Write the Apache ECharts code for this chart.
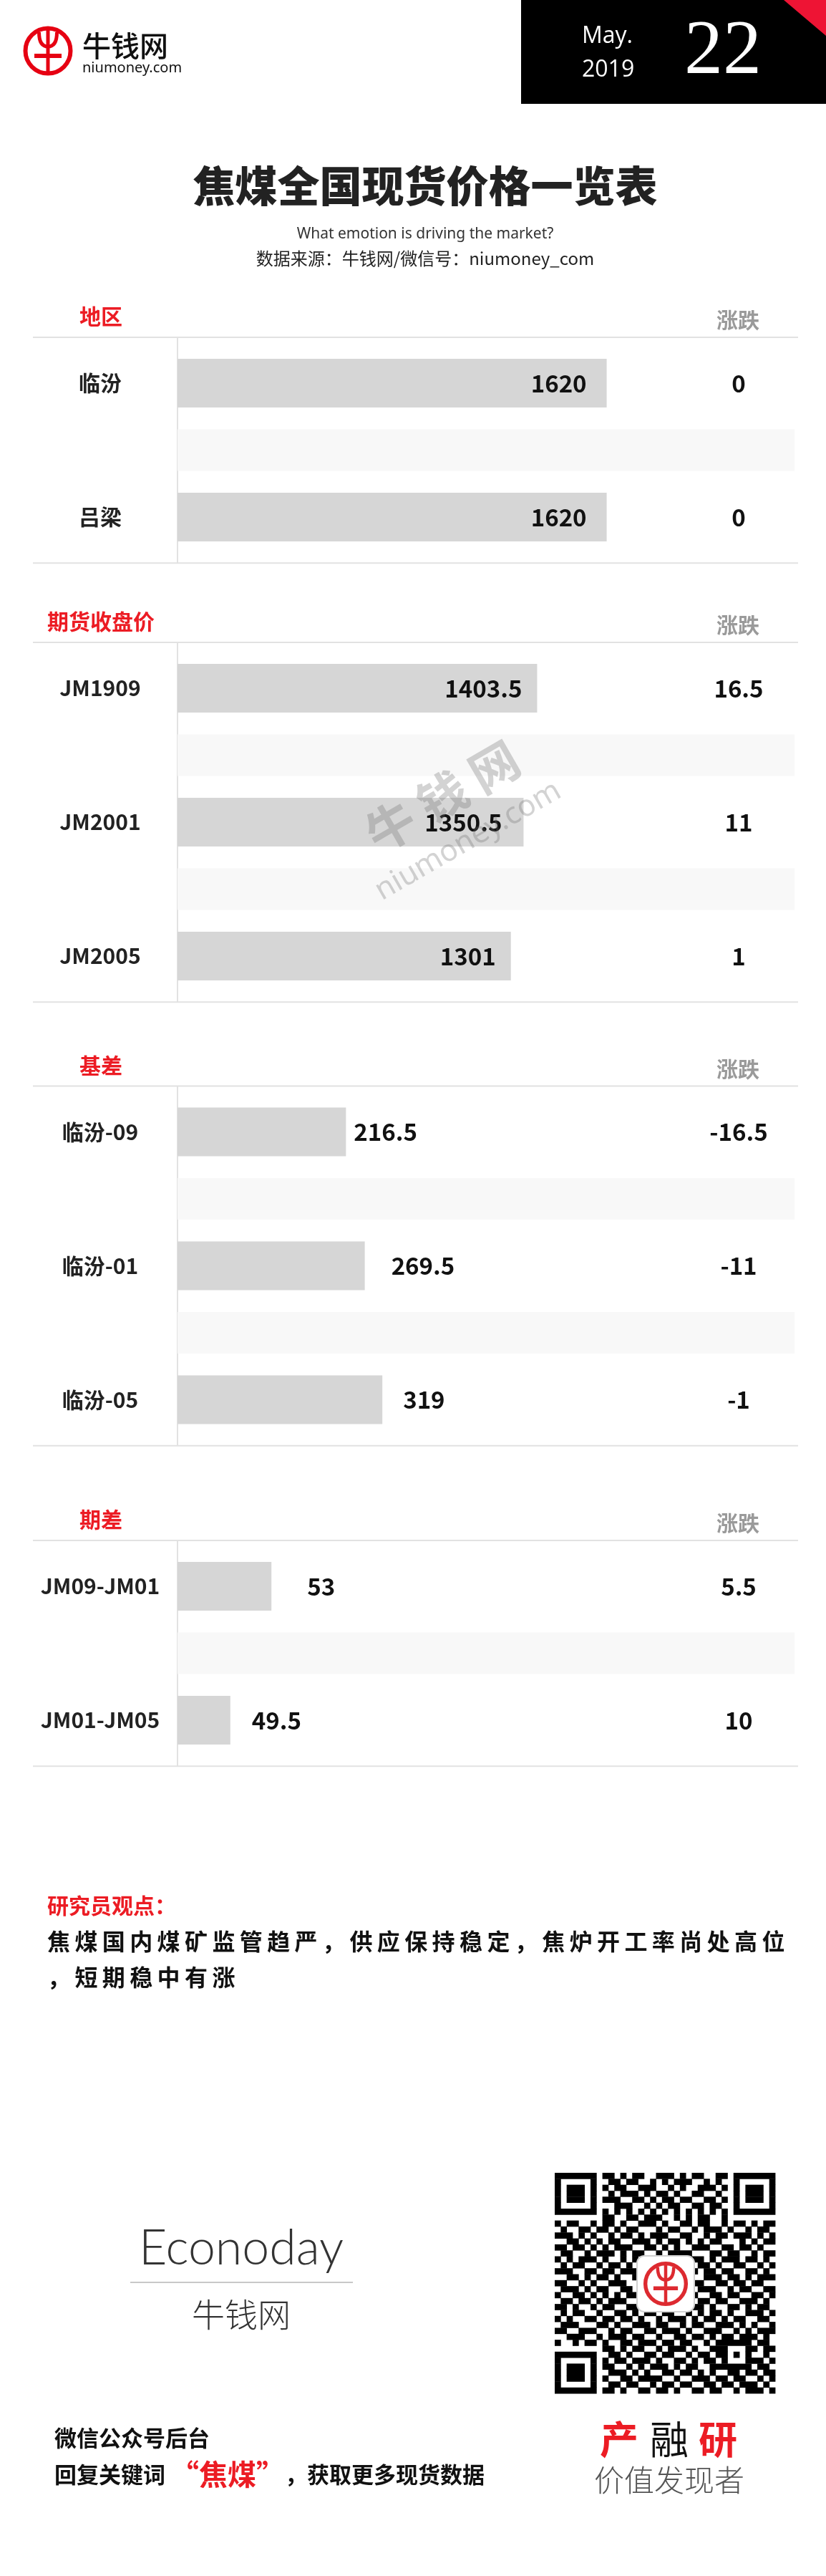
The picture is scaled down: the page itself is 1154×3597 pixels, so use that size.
<!DOCTYPE html>
<html><head><meta charset="utf-8">
<script src="https://cdn.jsdelivr.net/npm/echarts@6/dist/echarts.min.js"></script>
<style>html,body{margin:0;padding:0;background:#fff}#c{width:1154px;height:3597px}</style>
</head><body><div id="c"></div>
<script>
// ---------------- DATA ----------------
const regionNames = ['临汾', '吕梁'];
const regionPrices = [1620, 1620];
const regionChanges = [0, 0];

const futuresNames = ['JM1909', 'JM2001', 'JM2005'];
const futuresPrices = [1403.5, 1350.5, 1301];
const futuresChanges = [16.5, 11, 1];

const basisNames = ['临汾-09', '临汾-01', '临汾-05'];
const basisValues = [216.5, 269.5, 319];
const basisChanges = [-16.5, -11, -1];

const spreadNames = ['JM09-JM01', 'JM01-JM05'];
const spreadValues = [53, 49.5];
const spreadChanges = [5.5, 10];

const sectionTitles = ['地区', '期货收盘价', '基差', '期差'];
const changeHeader = '涨跌';

// ---------------- LAYOUT / STYLE ----------------
const CJK = '"Noto Sans CJK SC", "Noto Sans", sans-serif';
const RED = '#ec1c24';
const RULE_TOPS = [471, 897, 1516.5, 2151];
const AXIS_MIN = [0, 0, -258, 45];
const AXIS_MAX = [2329, 2408, 1480, 97.56];
const LABEL_POS = ['insideRight', 'insideRight', 'right', 'right'];
const LABEL_DIST = [[28, 28], [21, 30, 21], [11, 37, 29], [50, 30]];
const GRID_LEFT = 248, GRID_W = 862, BAND = 93.5;

const sections = [
  { names: regionNames, values: regionPrices, changes: regionChanges },
  { names: futuresNames, values: futuresPrices, changes: futuresChanges },
  { names: basisNames, values: basisValues, changes: basisChanges },
  { names: spreadNames, values: spreadValues, changes: spreadChanges }
];

const grids = [], xAxes = [], yAxes = [], series = [], els = [];
const ruleStyle = { stroke: '#e2e2e2', lineWidth: 2 };

sections.forEach((s, i) => {
  const n = s.names.length;
  const cats = [];
  for (let j = 0; j < n; j++) { cats.push('v' + j); if (j < n - 1) cats.push('g' + j); }
  const top = RULE_TOPS[i] + 17.25;
  const h = cats.length * BAND;
  const bottomRule = top + h + 17.5;
  grids.push({ left: GRID_LEFT, top: top, width: GRID_W, height: h, outerBoundsMode: 'none' });
  xAxes.push({ type: 'value', gridIndex: i, min: AXIS_MIN[i], max: AXIS_MAX[i], startValue: AXIS_MIN[i], show: false });
  yAxes.push({
    type: 'category', gridIndex: i, inverse: true, data: cats,
    axisLine: { show: false }, axisTick: { show: false }, splitLine: { show: false },
    axisLabel: {
      interval: 0, margin: 108, align: 'center', fontSize: 30, fontWeight: 'bold',
      fontFamily: CJK, color: '#222',
      formatter: v => v[0] === 'v' ? s.names[+v.slice(1)] : ''
    }
  });
  yAxes.push({
    type: 'category', gridIndex: i, inverse: true, data: cats, position: 'right', offset: -78,
    axisLine: { show: false }, axisTick: { show: false }, splitLine: { show: false },
    axisLabel: {
      interval: 0, margin: 0, align: 'center', fontSize: 33, fontWeight: 'bold',
      fontFamily: CJK, color: '#111',
      formatter: v => v[0] === 'v' ? String(s.changes[+v.slice(1)]) : ''
    }
  });
  series.push({
    type: 'bar', xAxisIndex: i, yAxisIndex: 2 * i + 1, barWidth: 58, silent: true, z: 1,
    clip: true, itemStyle: { color: '#f8f8f8' },
    data: cats.map(c => c[0] === 'g' ? AXIS_MAX[i] : '-')
  });
  series.push({
    type: 'bar', xAxisIndex: i, yAxisIndex: 2 * i, barWidth: 68, z: 2, clip: true,
    itemStyle: { color: '#d6d6d6' },
    label: {
      show: true, position: LABEL_POS[i], fontSize: 33, fontWeight: 'bold',
      fontFamily: CJK, color: '#111'
    },
    data: cats.map(c => {
      if (c[0] !== 'v') return '-';
      const k = +c.slice(1);
      return { value: s.values[k], label: { distance: LABEL_DIST[i][k] } };
    })
  });
  els.push({ type: 'line', shape: { x1: 46, y1: RULE_TOPS[i], x2: 1115, y2: RULE_TOPS[i] }, style: ruleStyle });
  els.push({ type: 'line', shape: { x1: 46, y1: bottomRule, x2: 1115, y2: bottomRule }, style: ruleStyle });
  els.push({ type: 'line', shape: { x1: GRID_LEFT, y1: RULE_TOPS[i], x2: GRID_LEFT, y2: bottomRule }, style: ruleStyle });
  els.push({ type: 'text', x: 141, y: RULE_TOPS[i] - 29, style: { text: sectionTitles[i], fontSize: 30, fontWeight: 'bold', fontFamily: CJK, fill: RED, align: 'center', verticalAlign: 'middle' } });
  els.push({ type: 'text', x: 1031, y: RULE_TOPS[i] - 24, style: { text: changeHeader, fontSize: 30, fontWeight: 'bold', fontFamily: CJK, fill: '#9a9a9a', align: 'center', verticalAlign: 'middle' } });
});

// ---------------- DECORATION ----------------
function logo(cx, cy, sc, color) {
  return {
    type: 'group', x: cx, y: cy, scaleX: sc, scaleY: sc, children: [
      { type: 'circle', shape: { cx: 0, cy: 0, r: 31.5 }, style: { fill: 'none', stroke: color, lineWidth: 6 } },
      { type: 'bezierCurve', shape: { x1: -12.5, y1: -26, cpx1: -12.5, cpy1: -6, x2: 0, y2: -6 }, style: { fill: 'none', stroke: color, lineWidth: 5 } },
      { type: 'bezierCurve', shape: { x1: 12.5, y1: -26, cpx1: 12.5, cpy1: -6, x2: 0, y2: -6 }, style: { fill: 'none', stroke: color, lineWidth: 5 } },
      { type: 'line', shape: { x1: 0, y1: -30, x2: 0, y2: 31 }, style: { stroke: color, lineWidth: 5 } },
      { type: 'line', shape: { x1: -19, y1: 7, x2: 19, y2: 7 }, style: { stroke: color, lineWidth: 6 } }
    ]
  };
}
function txt(x, y, text, size, weight, fill, align, family, extra) {
  return Object.assign({ type: 'text', x: x, y: y, style: { text: text, fontSize: size, fontWeight: weight, fontFamily: family || CJK, fill: fill, align: align || 'center', verticalAlign: 'middle' } }, extra || {});
}

els.push(logo(67, 71, 1, '#e60012'));
els.push(txt(115, 64, '牛钱网', 40, 500, '#111', 'left'));
els.push(txt(115, 95, 'niumoney.com', 20, 'normal', '#111', 'left', '"Noto Sans", sans-serif'));
els.push({ type: 'rect', shape: { x: 728, y: 0, width: 426, height: 145 }, style: { fill: '#000' } });
els.push({ type: 'polygon', shape: { points: [[1095, 0], [1154, 0], [1154, 50]] }, style: { fill: '#ee1434' } });
els.push(txt(813, 51, 'May.', 32, 'normal', '#fff', 'left', '"Open Sans", sans-serif'));
els.push(txt(813, 98, '2019', 32, 'normal', '#fff', 'left', '"Open Sans", sans-serif'));
els.push(txt(1010, 74, '22', 108, 'normal', '#fff', 'center', '"Liberation Serif", serif'));

els.push(txt(594, 260, '焦煤全国现货价格一览表', 59, 900, '#222'));
els.push(txt(594, 327, 'What emotion is driving the market?', 21, 'normal', '#333', 'center', '"Noto Sans", sans-serif'));
els.push(txt(594, 361, '数据来源：牛钱网/微信号：niumoney_com', 24, 'normal', '#222'));

// watermark (on top of bars)
els.push({
  type: 'group', x: 618, y: 1112, rotation: Math.PI / 6, z: 100, children: [
    txt(0, 0, '牛 钱 网', 68, 'bold', 'rgba(110,110,110,0.3)', 'center', CJK, { z: 100 }),
    txt(0, 72, 'niumoney.com', 42, 'normal', 'rgba(110,110,110,0.3)', 'center', '"Noto Sans", sans-serif', { z: 100 })
  ]
});

const thin = s => s.split('').join('\u2009');
els.push(txt(66, 2661, '研究员观点：', 30, 'bold', RED, 'left'));
els.push(txt(66, 2711, thin('焦煤国内煤矿监管趋严，供应保持稳定，焦炉开工率尚处高位'), 32, 'bold', '#111', 'left'));
els.push(txt(66, 2761, thin('，短期稳中有涨'), 32, 'bold', '#111', 'left'));

els.push(txt(337, 3140, 'Econoday', 68, 300, '#333', 'center', 'Lato, sans-serif'));
els.push({ type: 'line', shape: { x1: 182, y1: 3187, x2: 493, y2: 3187 }, style: { stroke: '#c8c8c8', lineWidth: 2 } });
els.push(txt(337, 3232, '牛钱网', 46, 300, '#333'));
els.push(txt(76, 3404, '微信公众号后台', 31, 'bold', '#111', 'left'));
els.push({
  type: 'text', x: 76, y: 3455, style: {
    text: '{a|回复关键词 }{r|“焦煤”}{a|，获取更多现货数据}', verticalAlign: 'middle', align: 'left',
    rich: {
      a: { fontSize: 31, fontWeight: 'bold', fontFamily: CJK, fill: '#111' },
      r: { fontSize: 40, fontWeight: 'bold', fontFamily: CJK, fill: RED }
    }
  }
});

const qr = [
  '1111111' + '0' + '110101100111010110011' + '0' + '1111111',
  '1000001' + '0' + '011011001010111001010' + '0' + '1000001',
  '1011101' + '0' + '101100111001010011101' + '0' + '1011101',
  '1011101' + '0' + '010111010110100110010' + '0' + '1011101',
  '1011101' + '0' + '111001101011011001101' + '0' + '1011101',
  '1000001' + '0' + '001110010101100110110' + '0' + '1000001',
  '1111111' + '0' + '101010101010101010101' + '0' + '1111111',
  '00000000' + '110011011100101011001' + '00000000',
  '101100' + '1' + '011010011101001101100101101011',
  '010011' + '0' + '110101100010110010111010010110',
  '111010' + '1' + '001011010111001100101101110101',
  '001101' + '0' + '101100111010110101011000101011',
  '110110' + '1' + '010111001101010011100110110100',
  '011001' + '0' + '111010110010111100011011001011',
  '101011' + '1' + '0100101' + '000000000' + '11010111011010',
  '010110' + '0' + '1011010' + '000000000' + '01101001100101',
  '111001' + '1' + '0110111' + '000000000' + '10110110011010',
  '001101' + '0' + '1101001' + '000000000' + '00111011010111',
  '110010' + '1' + '0011100' + '000000000' + '11001101101100',
  '011101' + '0' + '1100110' + '000000000' + '01110010110011',
  '100110' + '1' + '0101011' + '000000000' + '10011011001101',
  '011011' + '0' + '1011100' + '000000000' + '01101100111010',
  '110100' + '1' + '0110011' + '000000000' + '11010011010110',
  '010110' + '0' + '100110101101100101011010011101',
  '101001' + '1' + '011011010010111010110101100110',
  '011100' + '0' + '110100111011001011001110101001',
  '110011' + '1' + '001011001101110100111001010111',
  '001110' + '0' + '101110110010011011010110111010',
  '100101' + '1' + '010011011101101100101' + '11111' + '0110',
  '00000000' + '11010110010111010011' + '10001' + '1011',
  '1111111' + '0' + '01101001101100101101' + '10101' + '0010',
  '1000001' + '0' + '10110111010011010110' + '10001' + '1101',
  '1011101' + '0' + '11001010111010110011' + '11111' + '0110',
  '1011101' + '0' + '01110101001101101010' + '01101' + '1011',
  '1011101' + '0' + '10011011110010011101' + '10110' + '0101',
  '1000001' + '0' + '01101100101101100110' + '11011' + '1010',
  '1111111' + '0' + '11010011011010011011' + '00101' + '1101'
];
const QX = 775, QY = 3034, QM = 308 / 37;
qr.forEach((row, r) => {
  let c = 0;
  while (c < 37) {
    if (row[c] === '1') {
      let e = c;
      while (e < 37 && row[e] === '1') e++;
      els.push({ type: 'rect', shape: { x: QX + c * QM, y: QY + r * QM, width: (e - c) * QM + 0.4, height: QM + 0.4 }, style: { fill: '#000' } });
      c = e;
    } else c++;
  }
});
els.push({ type: 'rect', shape: { x: 890, y: 3150, width: 80, height: 78, r: 10 }, style: { fill: '#fff', stroke: '#d0d0d0', lineWidth: 2 } });
els.push(logo(930, 3189, 0.9, '#dd2a30'));

els.push(txt(865, 3406, '产', 54, 'bold', RED));
els.push(txt(935, 3406, '融', 54, 'normal', '#111'));
els.push(txt(1003, 3406, '研', 54, 'bold', RED));
els.push(txt(935, 3463, '价值发现者', 42, 300, '#555'));

const chart = echarts.init(document.getElementById('c'));
chart.setOption({
  animation: false,
  backgroundColor: '#fff',
  grid: grids, xAxis: xAxes, yAxis: yAxes, series: series,
  graphic: { elements: els }
});
</script>
</body></html>
